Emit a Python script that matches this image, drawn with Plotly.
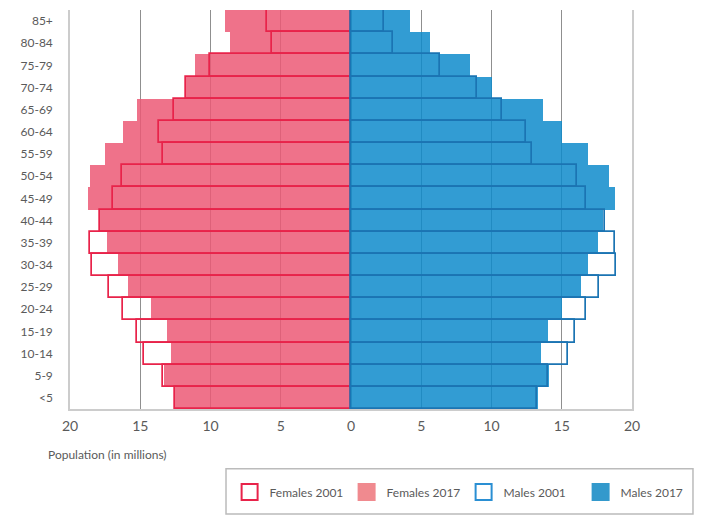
import plotly.graph_objects as go

# age groups, youngest first (plotly puts the first category at the bottom)
ages = ["<5", "5-9", "10-14", "15-19", "20-24", "25-29", "30-34", "35-39", "40-44",
        "45-49", "50-54", "55-59", "60-64", "65-69", "70-74", "75-79", "80-84", "85+"]

# population in millions
females_2017 = [12.6, 13.3, 12.8, 13.1, 14.25, 15.85, 16.55, 17.35, 17.9,
                18.75, 18.6, 17.5, 16.25, 15.25, 11.8, 11.1, 8.6, 8.95]
females_2001 = [12.5, 13.35, 14.7, 15.2, 16.2, 17.2, 18.45, 18.6, 17.85,
                16.95, 16.3, 13.4, 13.7, 12.6, 11.75, 10.05, 5.65, 5.95]
males_2017 = [13.3, 14.1, 13.5, 14.0, 15.0, 16.35, 16.85, 17.6, 17.9,
              18.8, 18.35, 16.85, 15.05, 13.65, 10.05, 8.45, 5.65, 4.2]
males_2001 = [13.25, 14.0, 15.45, 15.95, 16.7, 17.65, 18.85, 18.8, 18.05,
              16.75, 16.05, 12.9, 12.45, 10.75, 8.95, 6.3, 3.0, 2.35]

x_ticks = [-20, -15, -10, -5, 0, 5, 10, 15, 20]
x_labels = [str(abs(t)) for t in x_ticks]

PINK = "rgba(236,89,117,0.85)"
RED = "#e8234a"
BLUE = "rgba(14,139,203,0.85)"
DARKBLUE = "#1b74b3"
FONT = "Lato"

fig = go.Figure()

# filled 2017 bars first, 2001 outlines on top
fig.add_trace(go.Bar(y=ages, x=[-v for v in females_2017], orientation="h",
                     marker=dict(color=PINK, line=dict(width=0)), showlegend=False))
fig.add_trace(go.Bar(y=ages, x=males_2017, orientation="h",
                     marker=dict(color=BLUE, line=dict(width=0)), showlegend=False))
fig.add_trace(go.Bar(y=ages, x=[-v for v in females_2001], orientation="h",
                     marker=dict(color="rgba(0,0,0,0)", line=dict(color=RED, width=1.7)),
                     showlegend=False))
fig.add_trace(go.Bar(y=ages, x=males_2001, orientation="h",
                     marker=dict(color="rgba(0,0,0,0)", line=dict(color=DARKBLUE, width=1.7)),
                     showlegend=False))

# legend entries with bigger swatches
legend_items = [
    ("Females 2001", "white", RED),
    ("Females 2017", "#f08a8f", "#f08a8f"),
    ("Males 2001", "white", "#2a8fd3"),
    ("Males 2017", "#3399cc", "#3399cc"),
]
for name, fill, edge in legend_items:
    fig.add_trace(go.Scatter(x=[None], y=[None], mode="markers", name=name,
                             marker=dict(symbol="square", size=16, color=fill,
                                         line=dict(color=edge, width=2))))

fig.update_layout(
    width=706, height=521,
    margin=dict(l=62, r=82, t=2, b=120),
    barmode="overlay", bargap=0,
    plot_bgcolor="white", paper_bgcolor="white",
    font=dict(family=FONT, color="#555555", size=12),
    legend=dict(orientation="h", x=0.284, xanchor="left", y=-0.208, yanchor="middle",
                borderwidth=0, entrywidth=72, bgcolor="rgba(0,0,0,0)",
                font=dict(size=12, color="#5a5a5a")),
)
# frame around the legend
fig.add_shape(type="rect", xref="paper", yref="paper",
              x0=0.2776, x1=1.1085, y0=-0.263, y1=-0.150,
              line=dict(color="#bbbbbb", width=1.5), fillcolor="rgba(0,0,0,0)")

fig.update_xaxes(range=[-20, 20], tickvals=x_ticks, ticktext=x_labels,
                 showgrid=True, gridcolor="#8f8f8f", gridwidth=1, zeroline=False,
                 showline=True, linecolor="#cccccc", linewidth=1.5,
                 ticks="", ticklabelstandoff=3, tickfont=dict(size=14, color="#5a5a5a"))
fig.update_yaxes(showgrid=False, zeroline=False, showline=True, mirror=True,
                 linecolor="#cccccc", linewidth=1.5, ticks="", ticklabelstandoff=13,
                 range=[-0.5, 17.5], tickfont=dict(size=12, color="#5a5a5a"))

fig.add_annotation(text="Population (in millions)", xref="paper", yref="paper",
                   x=-0.043, y=-0.115, xanchor="left", yanchor="middle", showarrow=False,
                   font=dict(size=12, color="#5a5a5a"))

fig.write_html("out.html")
